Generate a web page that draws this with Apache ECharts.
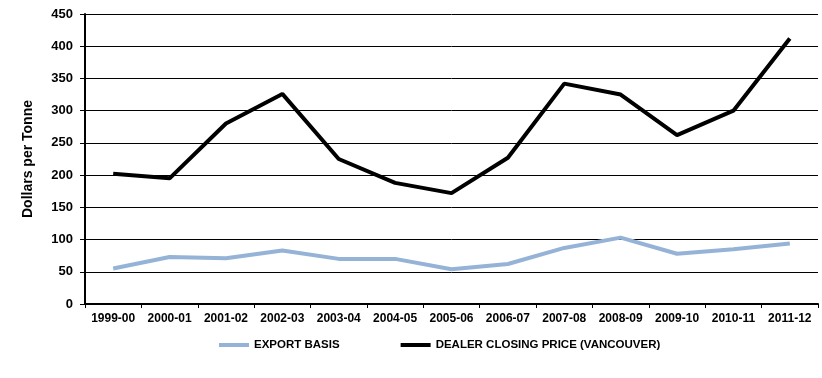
<!DOCTYPE html>
<html>
<head>
<meta charset="utf-8">
<script src="https://cdn.jsdelivr.net/npm/echarts@6/dist/echarts.min.js"></script>
<style>html,body{margin:0;padding:0;background:#fff;}#c{width:822px;height:378px;}</style>
</head>
<body>
<div id="c"></div>
<script>
const categories = ['1999-00','2000-01','2001-02','2002-03','2003-04','2004-05','2005-06','2006-07','2007-08','2008-09','2009-10','2010-11','2011-12'];
const exportBasis = [55, 73, 71, 83, 70, 70, 54, 62, 87, 103, 78, 85, 94];
const dealerClosing = [202, 195, 280, 326, 225, 188, 172, 227, 342, 325, 262, 300, 412];
const yTicks = [0, 50, 100, 150, 200, 250, 300, 350, 400, 450];

const font = 'Liberation Sans, Arial, sans-serif';
const chart = echarts.init(document.getElementById('c'), null, {renderer: 'canvas'});
chart.setOption({
  animation: false,
  backgroundColor: '#ffffff',
  grid: {left: 85, right: 4, top: 14, bottom: 74, containLabel: false},
  legend: {
    left: 219, top: 339, padding: 0,
    itemWidth: 30, itemHeight: 4, itemGap: 61,
    icon: 'rect',
    textStyle: {fontFamily: font, fontWeight: 'bold', fontSize: 11.5, color: '#000'},
    data: ['EXPORT BASIS', 'DEALER CLOSING PRICE (VANCOUVER)']
  },
  xAxis: {
    type: 'category',
    data: categories,
    boundaryGap: true,
    axisLine: {lineStyle: {color: '#000', width: 2}},
    axisTick: {show: true, length: 4, lineStyle: {color: '#000', width: 1}},
    axisLabel: {fontFamily: font, fontWeight: 'bold', fontSize: 12, color: '#000', margin: 9, interval: 0}
  },
  yAxis: {
    type: 'value',
    min: yTicks[0], max: yTicks[yTicks.length - 1], interval: 50,
    name: 'Dollars per Tonne',
    nameLocation: 'middle',
    nameGap: 50,
    nameRotate: 90,
    nameTextStyle: {fontFamily: font, fontWeight: 'bold', fontSize: 14, color: '#000'},
    axisLine: {show: true, lineStyle: {color: '#000', width: 2}},
    axisTick: {show: true, length: 5, lineStyle: {color: '#000', width: 1}},
    axisLabel: {fontFamily: font, fontWeight: 'bold', fontSize: 13, color: '#000', margin: 12},
    splitLine: {show: true, lineStyle: {color: '#000', width: 1}}
  },
  series: [
    {
      name: 'EXPORT BASIS', type: 'line', data: exportBasis,
      symbol: 'none', lineStyle: {color: '#95b3d7', width: 4}, itemStyle: {color: '#95b3d7'}
    },
    {
      name: 'DEALER CLOSING PRICE (VANCOUVER)', type: 'line', data: dealerClosing,
      symbol: 'none', lineStyle: {color: '#000', width: 4}, itemStyle: {color: '#000'}
    }
  ]
});
</script>
</body>
</html>
